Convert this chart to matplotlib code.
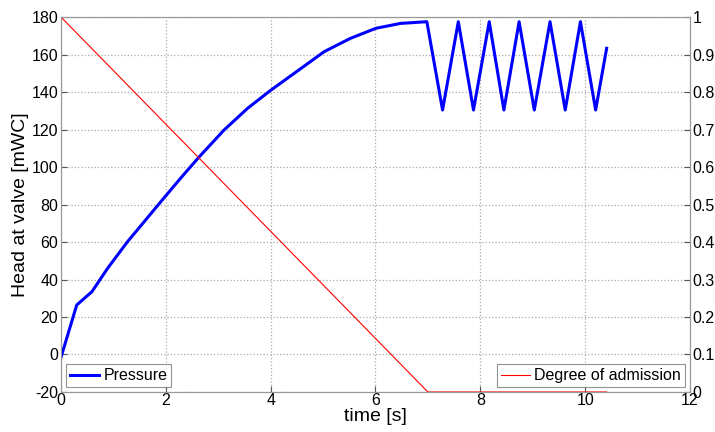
import numpy as np
import matplotlib
matplotlib.use("Agg")
import matplotlib.pyplot as plt

plt.rcParams['font.family'] = ['Liberation Sans', 'DejaVu Sans']
plt.rcParams['axes.unicode_minus'] = False

# pressure (head at valve)
t_p = [0.0, 0.30, 0.59, 0.89, 1.27, 1.905, 2.29, 2.63, 3.11, 3.56, 4.0, 4.57, 5.02, 5.52,
       6.01, 6.48, 6.98,
       7.28, 7.58, 7.87, 8.17, 8.45, 8.74, 9.03, 9.33, 9.62, 9.91, 10.2, 10.41]
head = [-1.5, 26.4, 33.5, 46.0, 60.2, 81.5, 94.3, 105.2, 119.7, 131.3, 140.9, 152.4, 161.5, 168.6,
        174.0, 176.6, 177.5,
        130.4, 177.5, 130.4, 177.5, 130.4, 177.5, 130.4, 177.5, 130.4, 177.5, 130.4, 163.3]

# degree of admission
t_a = [0.0, 7.0, 10.41]
adm = [1.0, 0.0, 0.0]

fig = plt.figure(figsize=(7.15, 4.32), dpi=100)
ax = fig.add_axes([0.0853, 0.0926, 0.8797, 0.868])
ax2 = ax.twinx()

l1, = ax.plot(t_p, head, color='blue', lw=2.2, label='Pressure', zorder=3)
l2, = ax2.plot(t_a, adm, color='red', lw=0.8, label='Degree of admission')

ax.set_xlim(0, 12)
ax.set_ylim(-20, 180)
ax.set_xticks(range(0, 13, 2))
ax.set_yticks(range(-20, 181, 20))
ax2.set_ylim(0, 1)
ax2.set_yticks(np.arange(0, 1.01, 0.1))
ax2.set_yticklabels(['0', '0.1', '0.2', '0.3', '0.4', '0.5', '0.6', '0.7', '0.8', '0.9', '1'])

for a in (ax, ax2):
    a.tick_params(direction='in', labelsize=11.5, length=4, color='#555555')
    for s in a.spines.values():
        s.set_color('#999999')
ax.tick_params(axis='x', pad=1)
ax.tick_params(axis='y', pad=2)
ax2.tick_params(axis='y', pad=2)

ax.grid(True, linestyle=':', color='#aaaaaa', lw=0.9)

ax.set_xlabel('time [s]', fontsize=14, labelpad=0)
ax.set_ylabel('Head at valve [mWC]', fontsize=14, labelpad=2)

leg1 = ax.legend(handles=[l1], loc='lower left', fontsize=11.5, fancybox=False,
                 edgecolor='#777777', borderaxespad=0.3, handlelength=1.8,
                 handletextpad=0.3, borderpad=0.25)
leg1.get_frame().set_linewidth(0.8)
leg2 = ax2.legend(handles=[l2], loc='lower right', fontsize=11.5, fancybox=False,
                  edgecolor='#777777', borderaxespad=0.3, handlelength=1.8,
                  handletextpad=0.3, borderpad=0.25)
leg2.get_frame().set_linewidth(0.8)

fig.savefig('out.png', dpi=100)
